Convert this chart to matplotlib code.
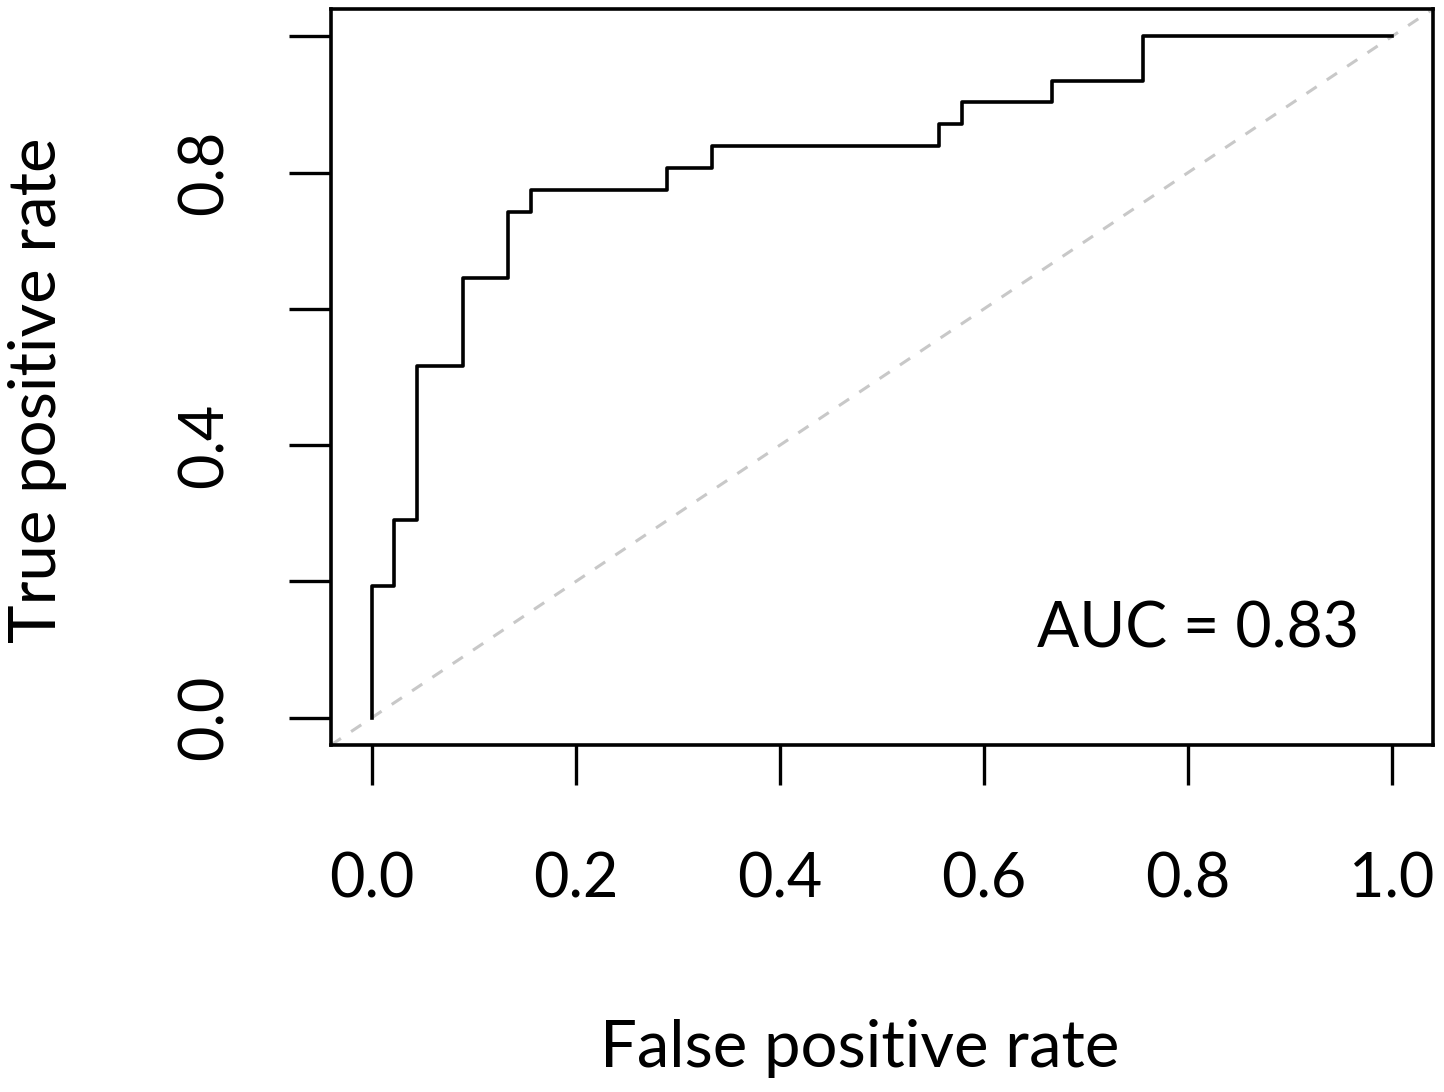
import matplotlib.pyplot as plt
import numpy as np

# ROC curve vertices (step corners)
fpr = [0.0, 0.0, 0.022, 0.044, 0.089, 0.133, 0.156, 0.289, 0.333, 0.556, 0.578, 0.667, 0.756, 1.0]
tpr = [0.0, 0.194, 0.290, 0.516, 0.645, 0.742, 0.774, 0.806, 0.839, 0.871, 0.903, 0.935, 1.0, 1.0]
auc_text = 'AUC = 0.83'

x_ticks = [0.0, 0.2, 0.4, 0.6, 0.8, 1.0]
x_labels = ['0.0', '0.2', '0.4', '0.6', '0.8', '1.0']
y_ticks = [0.0, 0.2, 0.4, 0.6, 0.8, 1.0]
y_labels = ['0.0', '', '0.4', '', '0.8', '']

plt.rcParams['font.family'] = ['Lato', 'DejaVu Sans']

fig = plt.figure(figsize=(14.44, 10.92), dpi=100)
ax = fig.add_axes([331 / 1444, 1 - 745 / 1092, 1102 / 1444, 736 / 1092])

ax.plot([-0.1, 1.1], [-0.1, 1.1], color='#c8c8c8', lw=2.2, dashes=(4, 4))
ax.step(fpr, tpr, where='post', color='black', lw=2.6)

ax.set_xlim(-0.04, 1.04)
ax.set_ylim(-0.04, 1.04)

ax.set_xticks(x_ticks)
ax.set_xticklabels(x_labels, fontsize=44)
ax.set_yticks(y_ticks)
ax.set_yticklabels(y_labels, fontsize=44, rotation=90, va='center')
ax.tick_params(axis='x', length=29, width=2.4, pad=48)
ax.tick_params(axis='y', length=30, width=2.4, pad=40)
for s in ax.spines.values():
    s.set_linewidth(2.6)

ax.text(0.81, 0.13, auc_text, fontsize=45, ha='center', va='center')

fig.text(860 / 1444, 1 - 1048 / 1092, 'False positive rate', fontsize=47, ha='center', va='center')
fig.text(38 / 1444, 1 - 390 / 1092, 'True positive rate', fontsize=47, ha='center', va='center', rotation=90)

fig.savefig('out.png', dpi=100)
